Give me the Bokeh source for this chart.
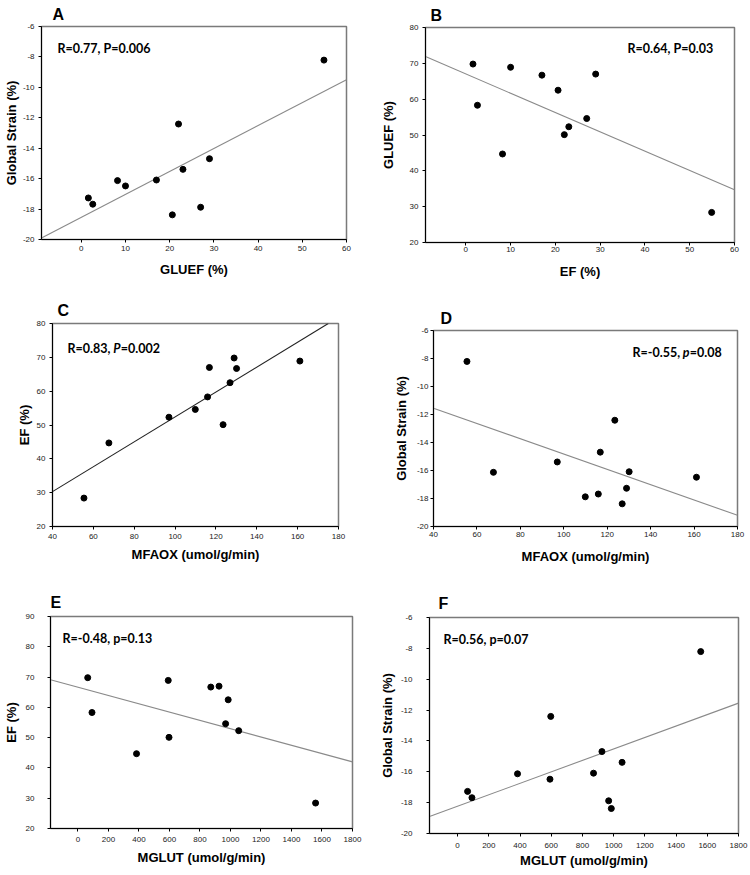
from bokeh.plotting import figure
from bokeh.layouts import column, row
from bokeh.models import Label, FixedTicker, Range1d, PrintfTickFormatter
from bokeh.embed import file_html
from bokeh.resources import INLINE

# ---- data (one value per subject) ----
gluef = [1.6, 2.6, 8.2, 10.0, 17.0, 20.6, 22.0, 23.0, 27.0, 29.0, 54.9]
ef = [69.8, 58.3, 44.7, 68.9, 66.7, 62.5, 50.1, 52.3, 54.6, 67.0, 28.4]
strain = [-17.27, -17.68, -16.13, -16.48, -16.09, -18.38, -12.41, -15.39, -17.88, -14.69, -8.21]
mfaox = [128.9, 115.9, 67.6, 161.1, 130.1, 126.9, 123.5, 97.0, 109.9, 116.8, 55.4]
mglut = [64, 92, 384, 592, 871, 985, 597, 1054, 968, 925, 1558]

# regression lines (end points)
fit_a_x, fit_a_y = [-9, 60], [-19.9, -9.5]
fit_b_x, fit_b_y = [-9, 60], [71.9, 34.7]
fit_c_x, fit_c_y = [40, 175], [30.3, 80]
fit_d_x, fit_d_y = [40, 180], [-11.55, -19.2]
fit_e_x, fit_e_y = [-180, 1800], [69.1, 42.0]
fit_f_x, fit_f_y = [-180, 1800], [-18.9, -11.55]

# tick values
ticks_gluef = [0, 10, 20, 30, 40, 50, 60]
ticks_mfaox = [40, 60, 80, 100, 120, 140, 160, 180]
ticks_mglut = [0, 200, 400, 600, 800, 1000, 1200, 1400, 1600, 1800]
ticks_strain = [-20, -18, -16, -14, -12, -10, -8, -6]
ticks_ef = [20, 30, 40, 50, 60, 70, 80]
ticks_ef_e = [20, 30, 40, 50, 60, 70, 80, 90]

AX_FONT = "Liberation Sans"
NOTE_FONT = "Lato"


def make_panel(frame, fig, xr, yr, xt, yt, xs, ys, fx, fy, line_color,
               letter, letter_off, letter_standoff, notes,
               xlabel, ylabel, xtick_so, ytick_so, xlab_so, ylab_so):
    L, R, T, B = frame
    x0, y0, w, h = fig
    p = figure(width=w, height=h, x_range=Range1d(*xr), y_range=Range1d(*yr),
               output_backend="svg", toolbar_location=None,
               min_border_left=L - x0, min_border_right=x0 + w - R,
               min_border_top=T - y0, min_border_bottom=y0 + h - B)
    p.background_fill_color = "white"
    p.border_fill_color = "white"
    p.outline_line_color = "#7a7a7a"
    p.outline_line_width = 1.5
    p.xgrid.visible = False
    p.ygrid.visible = False

    p.title.text = letter
    p.title.text_font = AX_FONT
    p.title.text_font_size = "16px"
    p.title.text_font_style = "bold"
    p.title.text_color = "black"
    p.title.align = "left"
    p.title.offset = letter_off
    p.title.standoff = letter_standoff

    for ax, tk, so, lab, lso in ((p.xaxis[0], xt, xtick_so, xlabel, xlab_so),
                                 (p.yaxis[0], yt, ytick_so, ylabel, ylab_so)):
        ax.ticker = FixedTicker(ticks=tk)
        ax.formatter = PrintfTickFormatter(format="%d")
        ax.axis_line_color = "black"
        ax.axis_line_width = 1
        ax.major_tick_line_color = "black"
        ax.major_tick_out = 3
        ax.major_tick_in = 0
        ax.minor_tick_line_color = None
        ax.major_label_text_font = AX_FONT
        ax.major_label_text_font_size = "8px"
        ax.major_label_text_color = "#222222"
        ax.major_label_standoff = so
        ax.axis_label = lab
        ax.axis_label_text_font = AX_FONT
        ax.axis_label_text_font_size = "13px"
        ax.axis_label_text_font_style = "bold"
        ax.axis_label_text_color = "black"
        ax.axis_label_standoff = lso

    p.line(fx, fy, line_color=line_color, line_width=1.1)
    p.scatter(xs, ys, size=6, fill_color="black", line_color="black")

    for (px, py, txt, style) in notes:
        p.add_layout(Label(x=px - L, y=B - py, x_units="screen", y_units="screen",
                           text=txt, text_font=NOTE_FONT, text_font_size="12.5px",
                           text_font_style=style, text_color="black",
                           text_align="left", text_baseline="alphabetic"))
    return p


pA = make_panel((41, 346, 26, 239), (0, 0, 375, 285), (-9, 60), (-20, -6),
                ticks_gluef, ticks_strain, gluef, strain, fit_a_x, fit_a_y, "#8a8a8a",
                "A", 11, 7, [(57, 48, "R=0.77, P=0.006", "bold")],
                "GLUEF (%)", "Global Strain (%)", 3, 4, 8, 1)
pB = make_panel((425, 734, 27, 242), (375, 0, 375, 285), (-9, 60), (20, 80),
                ticks_gluef, ticks_ef, gluef, ef, fit_b_x, fit_b_y, "#8a8a8a",
                "B", 5, 8, [(627, 48, "R=0.64, P=0.03", "bold")],
                "EF (%)", "GLUEF (%)", 1, 4, 9, 11)
pC = make_panel((52, 338, 323, 526), (0, 285, 375, 290), (40, 180), (20, 80),
                ticks_mfaox, ticks_ef, mfaox, ef, fit_c_x, fit_c_y, "#222222",
                "C", 5, 9, [(67, 348, "R=0.83, ", "bold"),
                            (112.8, 348, "P", "bold italic"),
                            (120.3, 348, "=0.002", "bold")],
                "MFAOX (umol/g/min)", "EF (%)", 4, 4, 5, 2)
pD = make_panel((433, 737, 330, 526), (375, 285, 375, 290), (40, 180), (-20, -6),
                ticks_mfaox, ticks_strain, mfaox, strain, fit_d_x, fit_d_y, "#8a8a8a",
                "D", 7, 7, [(632, 352, "R=-0.55, ", "bold"),
                            (682.3, 352, "p", "bold italic"),
                            (689.3, 352, "=0.08", "bold")],
                "MFAOX (umol/g/min)", "Global Strain (%)", 2, 2, 9, 5)
pE = make_panel((50, 352, 616, 828), (0, 575, 375, 300), (-180, 1800), (20, 90),
                ticks_mglut, ticks_ef_e, mglut, ef, fit_e_x, fit_e_y, "#8a8a8a",
                "E", 0, 11, [(62, 638, "R=-0.48, p=0.13", "bold")],
                "MGLUT (umol/g/min)", "EF (%)", 5, 13, 5, 4)
pF = make_panel((429, 738, 617, 833), (375, 575, 375, 300), (-180, 1800), (-20, -6),
                ticks_mglut, ticks_strain, mglut, strain, fit_f_x, fit_f_y, "#8a8a8a",
                "F", 9, 11, [(443, 639, "R=0.56, p=0.07", "bold")],
                "MGLUT (umol/g/min)", "Global Strain (%)", 6, 14, 2, 3)

# each figure wrapped on its own so that neighbouring frames are not aligned
layout = column(row(column(pA), column(pB)),
                row(column(pC), column(pD)),
                row(column(pE), column(pF)))
open("out.html", "w").write(file_html(layout, INLINE))
